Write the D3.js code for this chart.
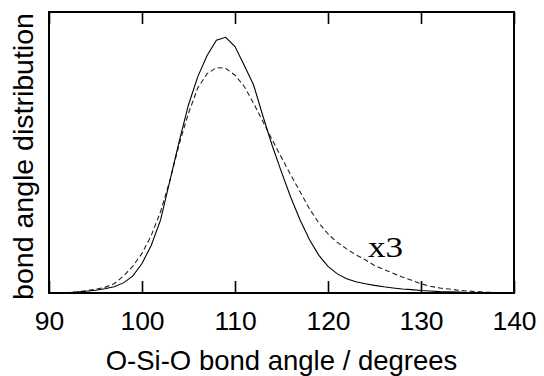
<!DOCTYPE html>
<html>
<head>
<meta charset="utf-8">
<script src="https://cdn.jsdelivr.net/npm/d3@7"></script>
<style>
  html, body { margin: 0; padding: 0; background: #fff; }
  svg { display: block; }
</style>
</head>
<body>
<svg id="chart" width="544" height="376"></svg>
<script>
// ---- data ----
const angles = d3.range(90, 141); // 90..140 degrees
const solidValues = [
  0, 0, 0.001, 0.003, 0.006, 0.010, 0.015, 0.022, 0.036, 0.060,
  0.105, 0.170, 0.260, 0.400, 0.540, 0.670, 0.770, 0.845, 0.900, 0.910,
  0.877, 0.810, 0.740, 0.630, 0.525, 0.430, 0.340, 0.260, 0.190, 0.135,
  0.095, 0.068, 0.051, 0.040, 0.033, 0.027, 0.022, 0.018, 0.014, 0.012,
  0.009, 0.007, 0.005, 0.004, 0.003, 0.002, 0.001, 0.001, 0, 0, 0
];
const dashedValues = [
  0, 0.001, 0.002, 0.004, 0.008, 0.013, 0.020, 0.033, 0.060, 0.095,
  0.141, 0.205, 0.290, 0.400, 0.530, 0.640, 0.730, 0.780, 0.802, 0.800,
  0.775, 0.735, 0.675, 0.610, 0.545, 0.482, 0.420, 0.360, 0.300, 0.250,
  0.210, 0.180, 0.157, 0.136, 0.118, 0.098, 0.084, 0.070, 0.057, 0.045,
  0.033, 0.024, 0.018, 0.014, 0.010, 0.007, 0.005, 0.003, 0.002, 0.001, 0
];
const xTicks = [90, 100, 110, 120, 130, 140];
const xLabel = "O-Si-O bond angle / degrees";
const yLabel = "bond angle distribution";
const annotation = "x3";

// ---- layout ----
const mLeft = 49, mRight = 514, mTop = 12, mBottom = 293;
const svg = d3.select("#chart");

const x = d3.scaleLinear().domain([90, 140]).range([mLeft, mRight]);
const y = d3.scaleLinear().domain([0, 1]).range([mBottom, mTop]);

const solid = angles.map((a, i) => ({a, v: solidValues[i]}));
const dashed = angles.map((a, i) => ({a, v: dashedValues[i]}));

const line = d3.line().x(d => x(d.a)).y(d => y(d.v));

svg.append("path").datum(dashed)
  .attr("d", line).attr("fill", "none")
  .attr("stroke", "#222").attr("stroke-width", 1.1)
  .attr("stroke-dasharray", "5,3");

svg.append("path").datum(solid)
  .attr("d", line).attr("fill", "none")
  .attr("stroke", "#000").attr("stroke-width", 1.1);

// ticks (inside, bottom and top)
const tickLen = 12;
const axB = d3.axisBottom(x).tickValues(xTicks).tickSize(-tickLen).tickSizeOuter(0).tickFormat(d3.format("d")).tickPadding(18);
const gB = svg.append("g").attr("transform", `translate(0,${mBottom})`).call(axB);
gB.select(".domain").remove();
gB.selectAll(".tick line").attr("stroke", "#000").attr("stroke-width", 1.6);
gB.selectAll(".tick text")
  .attr("font-family", "Liberation Sans, Arial, sans-serif")
  .attr("font-size", 26.5).attr("fill", "#000");

const axT = d3.axisTop(x).tickValues(xTicks).tickSize(-tickLen).tickSizeOuter(0).tickFormat("");
const gT = svg.append("g").attr("transform", `translate(0,${mTop})`).call(axT);
gT.select(".domain").remove();
gT.selectAll(".tick line").attr("stroke", "#000").attr("stroke-width", 1.6);

// frame
svg.append("rect")
  .attr("x", mLeft).attr("y", mTop)
  .attr("width", mRight - mLeft).attr("height", mBottom - mTop)
  .attr("fill", "none").attr("stroke", "#000").attr("stroke-width", 2);

// labels
svg.append("text")
  .attr("x", (mLeft + mRight) / 2).attr("y", 370)
  .attr("text-anchor", "middle")
  .attr("font-family", "Liberation Sans, Arial, sans-serif")
  .attr("font-size", 27.5).attr("fill", "#000")
  .text(xLabel);

svg.append("text")
  .attr("transform", `translate(33,156.5) rotate(-90)`)
  .attr("text-anchor", "middle")
  .attr("font-family", "Liberation Sans, Arial, sans-serif")
  .attr("font-size", 28.5).attr("fill", "#000")
  .text(yLabel);

svg.append("text")
  .attr("x", 368).attr("y", 257)
  .attr("font-family", "Liberation Serif, Times New Roman, serif")
  .attr("font-size", 29).attr("fill", "#000")
  .attr("textLength", 35).attr("lengthAdjust", "spacingAndGlyphs")
  .text(annotation);
</script>
</body>
</html>
